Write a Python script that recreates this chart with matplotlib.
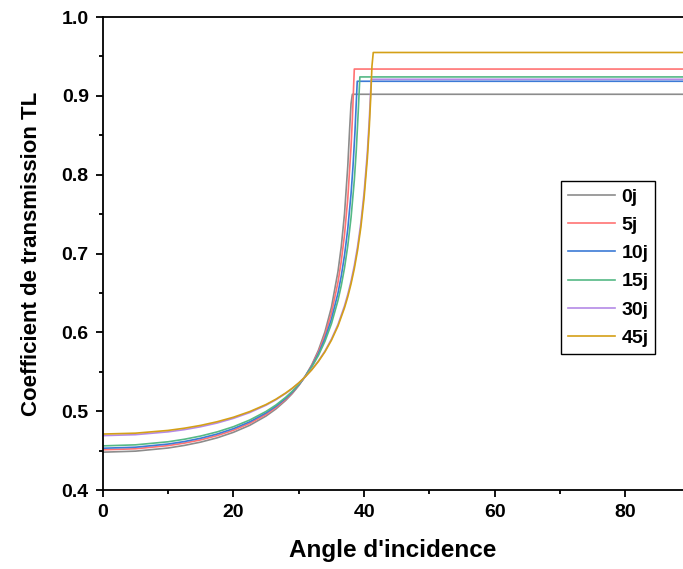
import matplotlib
matplotlib.use('Agg')
import matplotlib.pyplot as plt
from matplotlib.ticker import MultipleLocator

plt.rcParams['font.family'] = ['Liberation Sans', 'DejaVu Sans']
plt.rcParams['font.weight'] = 'bold'

# values
labels = ['0j', '5j', '10j', '15j', '30j', '45j']
colors = ['#8c8c8c', '#ff7373', '#3c7ad6', '#55b985', '#b48ae6', '#d4a017']

angle_0j = [0, 5, 10, 12.5, 15, 17.5, 20, 22.5, 25, 26.5, 28, 29, 30, 31, 32, 33, 34, 35, 36,
            36.5, 37, 37.5, 37.8, 38.0, 38.2, 90]
tl_0j = [.448, .4493, .4533, .4566, .4608, .4662, .4732, .4821, .4939, .5028, .5137, .5223,
         .5325, .5444, .559, .5771, .6005, .6318, .6771, .7084, .7503, .8107, .8603, .890,
         .902, .902]

angle_5j = [0, 5, 10, 12.5, 15, 17.5, 20, 22.5, 25, 26.5, 28, 29, 30, 31, 32, 33, 34, 35, 36,
            36.5, 37, 37.5, 38, 38.2, 38.4, 38.5, 90]
tl_5j = [.451, .4523, .4563, .4595, .4636, .4690, .4758, .4846, .4960, .5046, .5151, .5234,
         .5330, .5444, .5581, .5749, .5962, .6243, .6635, .6899, .7236, .7695, .8351, .8701,
         .9133, .934, .934]

angle_10j = [0, 5, 10, 12.5, 15, 17.5, 20, 22.5, 25, 26.5, 28, 29, 30, 31, 32, 33, 34, 35, 36,
             36.5, 37, 37.5, 38, 38.3, 38.6, 38.8, 38.95, 90]
tl_10j = [.453, .4543, .4583, .4615, .4657, .4710, .4778, .4865, .4978, .5062, .5164, .5243,
          .5335, .5443, .5571, .5726, .5919, .6166, .6498, .6712, .6976, .7312, .7757, .8106,
          .8544, .8914, .9185, .9185]

angle_15j = [0, 5, 10, 12.5, 15, 17.5, 20, 22.5, 25, 26.5, 28, 29, 30, 31, 32, 33, 34, 35, 36,
             36.5, 37, 37.5, 38, 38.5, 38.8, 39.1, 39.35, 90]
tl_15j = [.456, .4573, .4612, .4644, .4685, .4737, .4803, .4888, .4997, .5078, .5176, .5252,
          .5340, .5442, .5562, .5706, .5885, .6109, .6405, .6592, .6817, .7098, .7455, .7928,
          .8306, .8797, .924, .924]

angle_30j = [0, 5, 10, 12.5, 15, 17.5, 20, 22.5, 25, 26.5, 28, 29, 30, 31, 32, 33, 34, 35, 36,
             37, 37.5, 38, 38.5, 39, 39.5, 40, 40.5, 40.8, 41.0, 41.1, 90]
tl_30j = [.469, .4702, .4738, .4766, .4803, .4850, .4909, .4983, .5076, .5145, .5226, .5287,
          .5358, .5437, .5529, .5636, .5762, .5914, .6099, .6336, .6481, .6649, .6847, .7088,
          .7387, .7775, .8288, .8708, .9062, .921, .921]

angle_45j = [0, 5, 10, 12.5, 15, 17.5, 20, 22.5, 25, 26.5, 28, 29, 30, 31, 32, 33, 34, 35, 36,
             37, 37.5, 38, 38.5, 39, 39.5, 40, 40.5, 40.8, 41.0, 41.2, 41.4, 90]
tl_45j = [.471, .4721, .4756, .4784, .4820, .4866, .4923, .4995, .5085, .5152, .5231, .5291,
          .5359, .5437, .5526, .5630, .5752, .5900, .6080, .6311, .6451, .6615, .6807, .7041,
          .7332, .7709, .8208, .8617, .8961, .9376, .955, .955]

angles = [angle_0j, angle_5j, angle_10j, angle_15j, angle_30j, angle_45j]
tls = [tl_0j, tl_5j, tl_10j, tl_15j, tl_30j, tl_45j]

fig = plt.figure(figsize=(6.83, 5.69), dpi=100)
ax = fig.add_axes([0.1504, 0.1388, 0.8496, 0.8313])

for x, y, c, lab in zip(angles, tls, colors, labels):
    ax.plot(x, y, color=c, lw=1.2, label=lab)

ax.set_xlim(0, 88.8)
ax.set_ylim(0.4, 1.0)
ax.xaxis.set_major_locator(MultipleLocator(20))
ax.xaxis.set_minor_locator(MultipleLocator(10))
ax.yaxis.set_major_locator(MultipleLocator(0.1))
ax.yaxis.set_minor_locator(MultipleLocator(0.05))
ax.tick_params(which='major', direction='out', length=5, width=1.3, labelsize=14, pad=5)
ax.tick_params(which='minor', direction='out', length=3, width=1.3)
for lab in ax.get_xticklabels() + ax.get_yticklabels():
    lab.set_fontweight('bold')

ax.spines['right'].set_visible(False)
for s in ['left', 'bottom', 'top']:
    ax.spines[s].set_linewidth(1.3)

ax.set_xlabel("Angle d'incidence", fontsize=17.5, fontweight='bold', labelpad=13)
ax.set_ylabel('Coefficient de transmission TL', fontsize=16, fontweight='bold', labelpad=14)

leg = ax.legend(loc='upper left', bbox_to_anchor=(0.79, 0.653), borderaxespad=0,
                fancybox=False, edgecolor='black', framealpha=1,
                prop={'size': 14, 'weight': 'bold'}, handlelength=2.4,
                handletextpad=0.35, borderpad=0.35, labelspacing=0.55)
leg.get_frame().set_linewidth(1.0)

fig.savefig('out.png', dpi=100)
